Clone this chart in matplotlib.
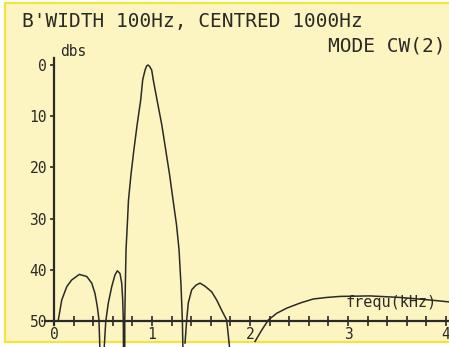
import matplotlib
matplotlib.use("Agg")
import matplotlib.pyplot as plt
import matplotlib.patches as patches

# filter response, frequency in kHz, attenuation in dB (0 at top)
lobe_a_f = [0.044, 0.079, 0.13, 0.18, 0.258, 0.334, 0.385, 0.418, 0.442, 0.459, 0.469]
lobe_a_db = [49.8, 45.9, 43.3, 42.0, 40.9, 41.3, 42.6, 44.6, 47.2, 49.8, 56.0]

lobe_b_f = [0.51, 0.528, 0.554, 0.589, 0.622, 0.646, 0.673, 0.691, 0.701, 0.707, 0.709]
lobe_b_db = [56.0, 50.1, 46.5, 43.3, 41.0, 40.2, 40.7, 42.6, 45.9, 49.8, 56.0]

main_f = [0.722, 0.722, 0.727, 0.735, 0.748, 0.76, 0.785, 0.815, 0.848, 0.885, 0.905,
          0.929, 0.945, 0.959, 0.975, 0.997, 1.013, 1.051, 1.10, 1.14, 1.18, 1.215,
          1.25, 1.276, 1.296, 1.31, 1.316]
main_db = [56.0, 50.0, 44.0, 36.1, 31.2, 26.4, 21.5, 16.6, 11.7, 6.8, 2.9,
           1.0, 0.2, 0.0, 0.25, 1.0, 2.9, 6.8, 11.7, 16.6, 21.5, 26.4,
           31.2, 36.1, 43.0, 50.0, 56.0]

lobe_c_f = [1.337, 1.354, 1.370, 1.405, 1.449, 1.490, 1.541, 1.609, 1.660, 1.711, 1.762, 1.796]
lobe_c_db = [54.3, 49.8, 46.5, 43.9, 43.0, 42.6, 43.2, 44.3, 45.9, 47.9, 49.8, 56.0]

lobe_d_f = [2.051, 2.119, 2.187, 2.272, 2.374, 2.51, 2.646, 2.783, 2.918, 3.224, 3.531, 3.837, 4.10]
lobe_d_db = [54.0, 51.8, 49.8, 48.5, 47.5, 46.5, 45.7, 45.4, 45.2, 45.1, 45.4, 45.9, 46.4]

y_ticks = [0, 10, 20, 30, 40, 50]
x_ticks = [0, 1, 2, 3, 4]

ink = '#2b2a26'
paper = '#fcf5c2'

plt.rcParams['font.family'] = ['DejaVu Sans Mono']

W, H = 449, 347
fig = plt.figure(figsize=(W / 100, H / 100), dpi=100)
fig.patch.set_facecolor('white')


def px(x, y):
    return x / W, 1 - y / H


# paper with yellow frame, kept behind the axes
fig.patches.append(patches.Rectangle(px(5, 342), 450 / W, 339 / H, transform=fig.transFigure,
                                     facecolor=paper, edgecolor='#f2e43c', linewidth=1.6,
                                     zorder=-10))

ax = fig.add_axes([0, 0, 1, 1])
ax.patch.set_alpha(0)
ax.set_xlim(-54 / 98, (W - 54) / 98)
ax.set_ylim((H - 65) / 5.12, -65 / 5.12)

for f, db in [(lobe_a_f, lobe_a_db), (lobe_b_f, lobe_b_db), (main_f, main_db),
              (lobe_c_f, lobe_c_db), (lobe_d_f, lobe_d_db)]:
    ax.plot(f, db, color=ink, lw=1.1, solid_joinstyle='round')

# axes drawn like a pen plotter
ax.spines['top'].set_visible(False)
ax.spines['right'].set_visible(False)
ax.spines['left'].set_position(('data', 0))
ax.spines['bottom'].set_position(('data', 50))
ax.spines['left'].set_bounds(-1.4, 50.8)
ax.spines['bottom'].set_bounds(-0.09, 4.2)
for s in ['left', 'bottom']:
    ax.spines[s].set_color(ink)
    ax.spines[s].set_linewidth(1.6)

ax.set_yticks(y_ticks)
ax.set_yticklabels([str(v) for v in y_ticks])
ax.set_xticks(x_ticks)
ax.set_xticklabels([str(v) for v in x_ticks])
ax.set_xticks([i * 0.2 for i in range(21)], minor=True)
ax.tick_params(axis='y', direction='out', length=3, width=1.2, pad=2,
               labelsize=10.5, labelcolor=ink, color=ink)
ax.tick_params(axis='x', which='both', direction='inout', length=7, width=1.2,
               pad=1, labelsize=10.5, labelcolor=ink, color=ink)

fig.text(*px(22, 22), "B'WIDTH 100Hz, CENTRED 1000Hz", fontsize=14, color=ink,
         va='center', ha='left')
fig.text(*px(446, 46), "MODE CW(2)", fontsize=14, color=ink,
         va='center', ha='right')
fig.text(*px(60, 52), "dbs", fontsize=10.5, color=ink, va='center', ha='left')
fig.text(*px(437, 302), "frequ(kHz)", fontsize=11, color=ink, va='center', ha='right')

fig.savefig('out.png', dpi=100, facecolor=fig.get_facecolor())
